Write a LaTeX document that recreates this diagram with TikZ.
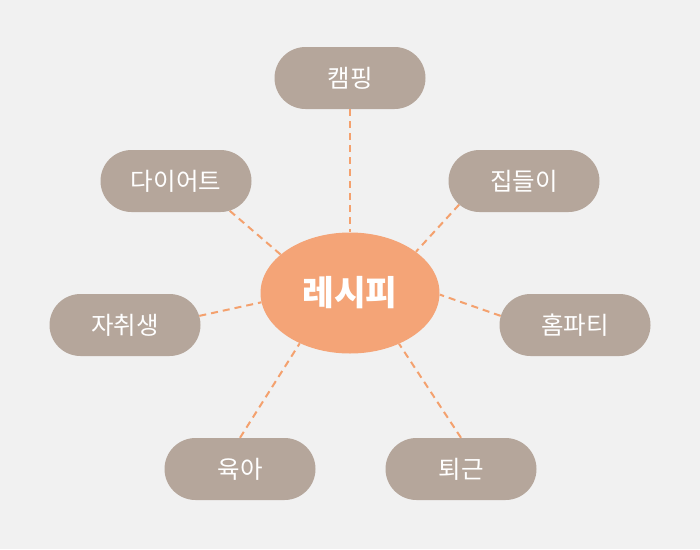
\documentclass[tikz,border=0pt]{standalone}
\usepackage{fontspec}
\setmainfont{Noto Sans CJK KR}
\usetikzlibrary{shapes.geometric,shapes.misc}
\definecolor{fond}{HTML}{F1F1F1}
\definecolor{taupe}{HTML}{B5A69B}
\definecolor{peche}{HTML}{F4A477}
\definecolor{trait}{HTML}{F4A16E}

\tikzset{theme/.style = {rounded rectangle, fill=taupe, text=white,
                         minimum width=151pt, minimum height=62pt, inner sep=0pt,
                         font=\fontsize{24.5}{28}\selectfont},
         recette/.style = {ellipse, fill=peche, text=white,
                           minimum width=179pt, minimum height=121pt, inner sep=0pt,
                           font=\fontsize{34.5}{40}\selectfont\bfseries},
         lien/.style = {draw=trait, line width=2pt, dash pattern=on 7pt off 5pt}
        }

\begin{document}
\begin{tikzpicture}[x=1pt, y=-1pt]
  \fill[fond] (0,0) rectangle (700,549);
  \node[recette] (recette) at (350,293) {레시피};
  \node[theme] (camping)  at (350,78)  {캠핑};
  \node[theme] (diete)    at (176,181) {다이어트};
  \node[theme] (menage)   at (524,181) {집들이};
  \node[theme] (etudiant) at (125,325) {자취생};
  \node[theme] (fete)     at (575,325) {홈파티};
  \node[theme] (enfant)   at (240,469) {육아};
  \node[theme] (retour)   at (461,469) {퇴근};
  % liens
  \draw[lien] (camping.south) -- (recette.north);
  \draw[lien] (diete.-29)     -- (recette.151);
  \draw[lien] (menage.200)    -- (recette.32);
  \draw[lien] (etudiant.7)    -- (recette.186);
  \draw[lien] (fete.173)      -- (recette.-1);
  \draw[lien] (enfant.north)  -- (recette.225);
  \draw[lien] (retour.north)  -- (recette.-46);
\end{tikzpicture}
\end{document}
